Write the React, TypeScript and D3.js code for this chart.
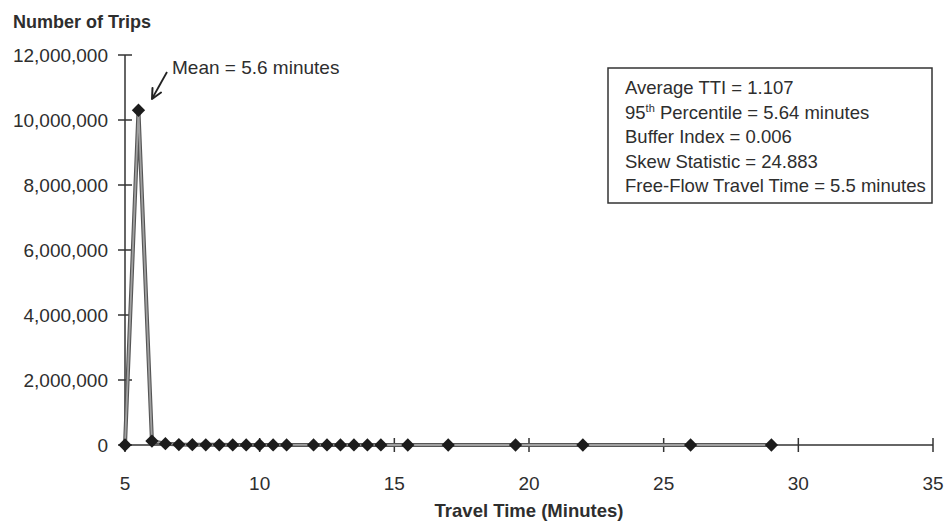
import React from "react";
import * as d3 from "d3";

const travelTimes = [5, 5.5, 6, 6.5, 7, 7.5, 8, 8.5, 9, 9.5, 10, 10.5, 11, 12, 12.5, 13, 13.5, 14, 14.5, 15.5, 17, 19.5, 22, 26, 29];
const tripCounts = [0, 10300000, 120000, 40000, 15000, 8000, 5000, 4000, 3000, 2000, 2000, 1500, 1000, 1000, 800, 600, 500, 400, 300, 200, 150, 100, 80, 50, 30];
const xTicks = [5, 10, 15, 20, 25, 30, 35];
const yTicks = [0, 2000000, 4000000, 6000000, 8000000, 10000000, 12000000];
const statLines = [
  ["Average TTI = 1.107"],
  ["95", "th", " Percentile = 5.64 minutes"],
  ["Buffer Index = 0.006"],
  ["Skew Statistic = 24.883"],
  ["Free-Flow Travel Time = 5.5 minutes"],
];

const FONT = "'Liberation Sans', Arial, Helvetica, sans-serif";
const TXT = "#2e2e2e";

export default function App() {
  const x = d3.scaleLinear().domain([5, 35]).range([125, 933]);
  const y = d3.scaleLinear().domain([0, 12000000]).range([445, 55]);
  const data = travelTimes.map((t, i) => ({ t, v: tripCounts[i] }));
  const line = d3
    .line<{ t: number; v: number }>()
    .x((d) => x(d.t))
    .y((d) => y(d.v));
  const fmt = d3.format(",");
  const path = line(data) || "";
  const diamond = d3.symbol().type(d3.symbolSquare).size(88)() || "";

  return (
    <svg
      width={950}
      height={523}
      style={{ position: "absolute", left: 0, top: 0, background: "#fff" }}
      fontFamily={FONT}
    >
      <rect x={0} y={0} width={950} height={523} fill="#fff" />
      {/* title */}
      <text x={13} y={28} fontSize={18} fontWeight="bold" fill={TXT}>
        Number of Trips
      </text>

      {/* y axis */}
      <line x1={x(5)} x2={x(5)} y1={y(0)} y2={y(12000000)} stroke="#333" strokeWidth={1.5} />
      {yTicks.map((v) => (
        <g key={v}>
          <line x1={x(5) - 7} x2={x(5) + 7} y1={y(v)} y2={y(v)} stroke="#333" strokeWidth={1.5} />
          <text x={108} y={y(v)} dy="0.36em" textAnchor="end" fontSize={19} fill={TXT}>
            {fmt(v)}
          </text>
        </g>
      ))}

      {/* x axis */}
      <line x1={x(5)} x2={x(35)} y1={y(0)} y2={y(0)} stroke="#333" strokeWidth={1.5} />
      {xTicks.map((t) => (
        <g key={t}>
          <line x1={x(t)} x2={x(t)} y1={y(0) - 7} y2={y(0) + 7} stroke="#333" strokeWidth={1.5} />
          <text x={x(t)} y={490} textAnchor="middle" fontSize={19} fill={TXT}>
            {t}
          </text>
        </g>
      ))}
      <text x={(x(5) + x(35)) / 2} y={517} textAnchor="middle" fontSize={18.5} fontWeight="bold" fill={TXT}>
        Travel Time (Minutes)
      </text>

      {/* series */}
      <path d={path} fill="none" stroke="#555" strokeWidth={4} strokeLinejoin="round" />
      <path d={path} fill="none" stroke="#a0a0a0" strokeWidth={1.8} strokeLinejoin="round" />
      {data.map((d, i) => (
        <path key={i} d={diamond} transform={`translate(${x(d.t)},${y(d.v)}) rotate(45)`} fill="#1c1c1c" />
      ))}

      {/* mean annotation */}
      <line x1={167} y1={72} x2={153} y2={97} stroke="#222" strokeWidth={1.8} />
      <path d="M152,99 L152.5,88 M152,99 L161,92.5" fill="none" stroke="#222" strokeWidth={2} strokeLinecap="round" />
      <text x={172} y={74} fontSize={19} fill={TXT}>
        Mean = 5.6 minutes
      </text>

      {/* stats box */}
      <rect x={608} y={68} width={324} height={135} fill="#fff" stroke="#333" strokeWidth={1.5} />
      {statLines.map((parts, i) => {
        const yy = 94 + i * 24.5;
        if (parts.length === 3) {
          return (
            <text key={i} x={625} y={yy} fontSize={18.5} fill={TXT}>
              {parts[0]}
              <tspan fontSize={11} dy={-7}>{parts[1]}</tspan>
              <tspan dy={7}>{parts[2]}</tspan>
            </text>
          );
        }
        return (
          <text key={i} x={625} y={yy} fontSize={18.5} fill={TXT}>
            {parts[0]}
          </text>
        );
      })}
    </svg>
  );
}
